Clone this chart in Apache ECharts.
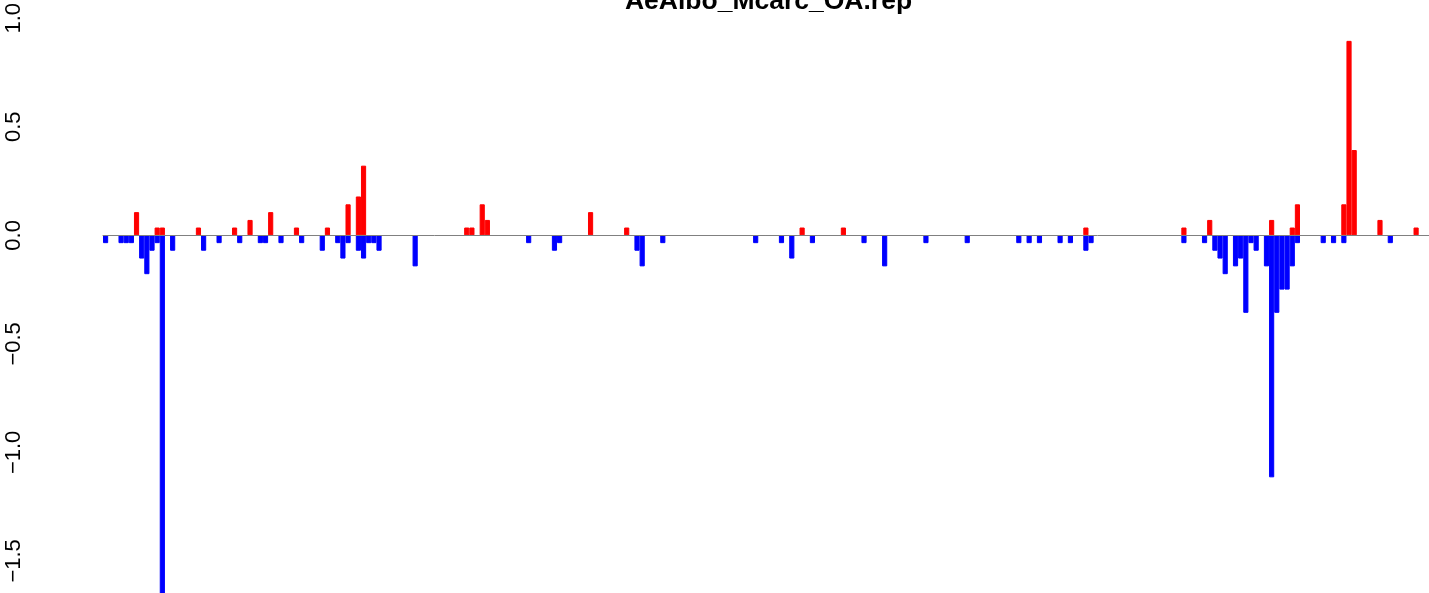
<!DOCTYPE html>
<html>
<head>
<meta charset="utf-8">
<script src="https://cdn.jsdelivr.net/npm/echarts/dist/echarts.min.js"></script>
<style>
html,body{margin:0;padding:0;background:#fff;}
#chart{width:1429px;height:593px;}
</style>
</head>
<body>
<div id="chart"></div>
<script>
// ---- data ----
const titleText = "AeAlbo_Mcarc_OA.rep";
const nBars = 255;          // number of bar slots
const nPad = 2;             // empty slots to the right (baseline continues)
const yTicks = [-1.5, -1.0, -0.5, 0.0, 0.5, 1.0];

// positive (red) bars: slot index -> value
const redIdx = [6, 10, 11, 18, 25, 28, 32, 37, 43, 47, 49, 50, 70, 71, 73, 74, 94, 101, 135, 143, 190, 209, 214, 226, 230, 231, 240, 241, 242, 247, 254];
const redVal = [0.107, 0.036, 0.036, 0.036, 0.036, 0.071, 0.107, 0.036, 0.036, 0.143, 0.179, 0.321, 0.036, 0.036, 0.143, 0.071, 0.107, 0.036, 0.036, 0.036, 0.036, 0.036, 0.071, 0.071, 0.036, 0.143, 0.143, 0.896, 0.393, 0.071, 0.036];

// negative (blue) bars: slot index -> value
const blueIdx = [0, 3, 4, 5, 7, 8, 9, 10, 11, 13, 19, 22, 26, 30, 31, 34, 38, 42, 45, 46, 47, 49, 50, 51, 52, 53, 60, 82, 87, 88, 103, 104, 108, 126, 131, 133, 137, 147, 151, 159, 167, 177, 179, 181, 185, 187, 190, 191, 209, 213, 215, 216, 217, 219, 220, 221, 222, 223, 225, 226, 227, 228, 229, 230, 231, 236, 238, 240, 249];
const blueVal = [-0.036, -0.036, -0.036, -0.036, -0.107, -0.179, -0.071, -0.036, -1.85, -0.071, -0.071, -0.036, -0.036, -0.036, -0.036, -0.036, -0.036, -0.071, -0.036, -0.107, -0.036, -0.071, -0.107, -0.036, -0.036, -0.071, -0.143, -0.036, -0.071, -0.036, -0.071, -0.143, -0.036, -0.036, -0.036, -0.107, -0.036, -0.036, -0.143, -0.036, -0.036, -0.036, -0.036, -0.036, -0.036, -0.036, -0.071, -0.036, -0.036, -0.036, -0.071, -0.107, -0.179, -0.143, -0.107, -0.357, -0.036, -0.071, -0.143, -1.115, -0.357, -0.25, -0.25, -0.143, -0.036, -0.036, -0.036, -0.036, -0.036];

// ---- build library inputs ----
const categories = [];
for (let i = 0; i < nBars + nPad; i++) categories.push(String(i + 1));
function fill(idx, val) {
  const arr = categories.map(() => null);
  idx.forEach((k, j) => { arr[k] = val[j]; });
  return arr;
}
const redData = fill(redIdx, redVal);
const blueData = fill(blueIdx, blueVal);

const chart = echarts.init(document.getElementById('chart'), null, {renderer: 'canvas'});
const FONT = '"Liberation Sans", Arial, Helvetica, sans-serif';
chart.setOption({
  animation: false,
  backgroundColor: '#ffffff',
  graphic: [{
    type: 'text', x: 768.5, y: 1.5, z: 100,
    style: {text: titleText, font: 'bold 26.5px ' + FONT, fill: '#000', textAlign: 'center', textVerticalAlign: 'middle'}
  }],
  grid: {left: 103, right: 1429 - 103 - 5.17 * (nBars + nPad), top: 14.9, bottom: 32.1, containLabel: false},
  xAxis: {
    type: 'category', data: categories, z: 10,
    axisLine: {show: true, onZero: true, lineStyle: {color: '#808080', width: 1}},
    axisTick: {show: false}, axisLabel: {show: false}, splitLine: {show: false}
  },
  yAxis: {
    type: 'value', min: yTicks[0], max: yTicks[yTicks.length - 1], interval: 0.5,
    axisLine: {show: false}, axisTick: {show: false}, splitLine: {show: false},
    axisLabel: {
      show: true, rotate: 90, margin: 78, fontSize: 22, fontFamily: FONT, color: '#000',
      showMinLabel: true, showMaxLabel: true,
      formatter: v => (v < 0 ? '\u2212' : '') + Math.abs(v).toFixed(1)
    }
  },
  series: [
    {type: 'bar', name: 'neg', data: blueData, clip: false, barGap: '-100%', barCategoryGap: '0%',
     itemStyle: {color: '#0000ff', borderColor: '#0000ff', borderWidth: 1}},
    {type: 'bar', name: 'pos', data: redData, clip: false, barGap: '-100%', barCategoryGap: '0%',
     itemStyle: {color: '#ff0000', borderColor: '#ff0000', borderWidth: 1}}
  ]
});
</script>
</body>
</html>
